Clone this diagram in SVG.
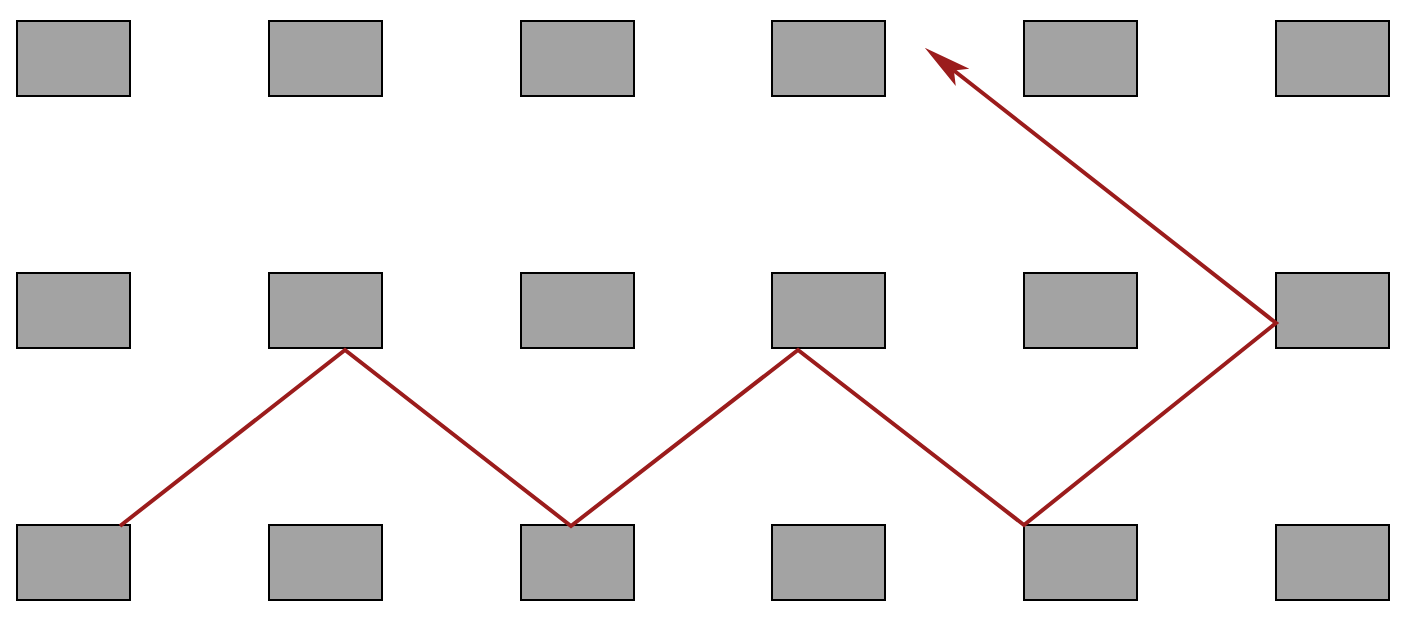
<svg xmlns="http://www.w3.org/2000/svg" width="1409" height="624" viewBox="0 0 1409 624">
<style>
.box{fill:#a3a3a3;stroke:#000;stroke-width:2}
.conn{fill:none;stroke:#9b1c1c;stroke-width:4;stroke-linejoin:miter}
</style>
<defs>
<marker id="arr" markerUnits="userSpaceOnUse" markerWidth="52" markerHeight="26" viewBox="0 0 52 26" refX="11" refY="13" orient="auto">
<path d="M0,2 L48,13 L0,24 L11,13 z" fill="#9b1c1c"/>
</marker>
</defs>
<rect width="1409" height="624" fill="#fff"/>
<g id="r1c1"><rect class="box" x="17" y="21" width="113" height="75"/></g>
<g id="r1c2"><rect class="box" x="269" y="21" width="113" height="75"/></g>
<g id="r1c3"><rect class="box" x="521" y="21" width="113" height="75"/></g>
<g id="r1c4"><rect class="box" x="772" y="21" width="113" height="75"/></g>
<g id="r1c5"><rect class="box" x="1024" y="21" width="113" height="75"/></g>
<g id="r1c6"><rect class="box" x="1276" y="21" width="113" height="75"/></g>
<g id="r2c1"><rect class="box" x="17" y="273" width="113" height="75"/></g>
<g id="r2c2"><rect class="box" x="269" y="273" width="113" height="75"/></g>
<g id="r2c3"><rect class="box" x="521" y="273" width="113" height="75"/></g>
<g id="r2c4"><rect class="box" x="772" y="273" width="113" height="75"/></g>
<g id="r2c5"><rect class="box" x="1024" y="273" width="113" height="75"/></g>
<g id="r2c6"><rect class="box" x="1276" y="273" width="113" height="75"/></g>
<g id="r3c1"><rect class="box" x="17" y="525" width="113" height="75"/></g>
<g id="r3c2"><rect class="box" x="269" y="525" width="113" height="75"/></g>
<g id="r3c3"><rect class="box" x="521" y="525" width="113" height="75"/></g>
<g id="r3c4"><rect class="box" x="772" y="525" width="113" height="75"/></g>
<g id="r3c5"><rect class="box" x="1024" y="525" width="113" height="75"/></g>
<g id="r3c6"><rect class="box" x="1276" y="525" width="113" height="75"/></g>
<g id="connectors">
<polyline class="conn" points="120,526 345,350 571,526 798,350 1024,525 1276,323 953.9,70.5" marker-end="url(#arr)"/>
</g>
</svg>
